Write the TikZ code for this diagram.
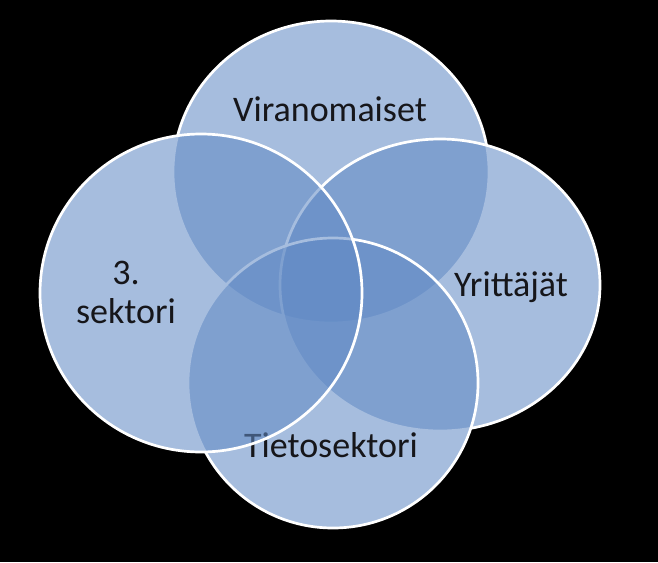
\documentclass[tikz,border=0pt]{standalone}
\usepackage{fontspec}
\setmainfont{Carlito}
\usetikzlibrary{positioning}
\definecolor{vennblue}{RGB}{97,138,197}
\definecolor{textgray}{RGB}{22,22,26}

\begin{document}
\begin{tikzpicture}[x=1pt,y=-1pt,
  ring/.style={fill=vennblue,fill opacity=0.56,draw=white,line width=2.7pt},
  tag/.style={font=\fontsize{36}{39}\selectfont,text=textgray,align=center,anchor=base}]
\fill[black] (0,0) rectangle (658,562);
% white base under the rings
\foreach \cx/\cy/\rx/\ry in {331/172/158/151, 440/285/160/146, 333/383/145/145, 201/293/161/159}
  \fill[white] (\cx,\cy) ellipse [x radius=\rx, y radius=\ry];

\draw[ring] (331,172) ellipse [x radius=158, y radius=151];
\node[tag] (viranomaiset) at (330,121) {Viranomaiset};

\draw[ring] (440,285) ellipse [x radius=160, y radius=146];
\node[tag] (yrittajat) at (511,296) {Yrittäjät};

\draw[ring] (333,383) ellipse [x radius=145, y radius=145];
\node[tag] (tietosektori) at (331,457) {Tietosektori};

\draw[ring] (201,293) ellipse [x radius=161, y radius=159];
\node[tag] (sektori) at (126,323) {3.\\sektori};
\end{tikzpicture}
\end{document}
